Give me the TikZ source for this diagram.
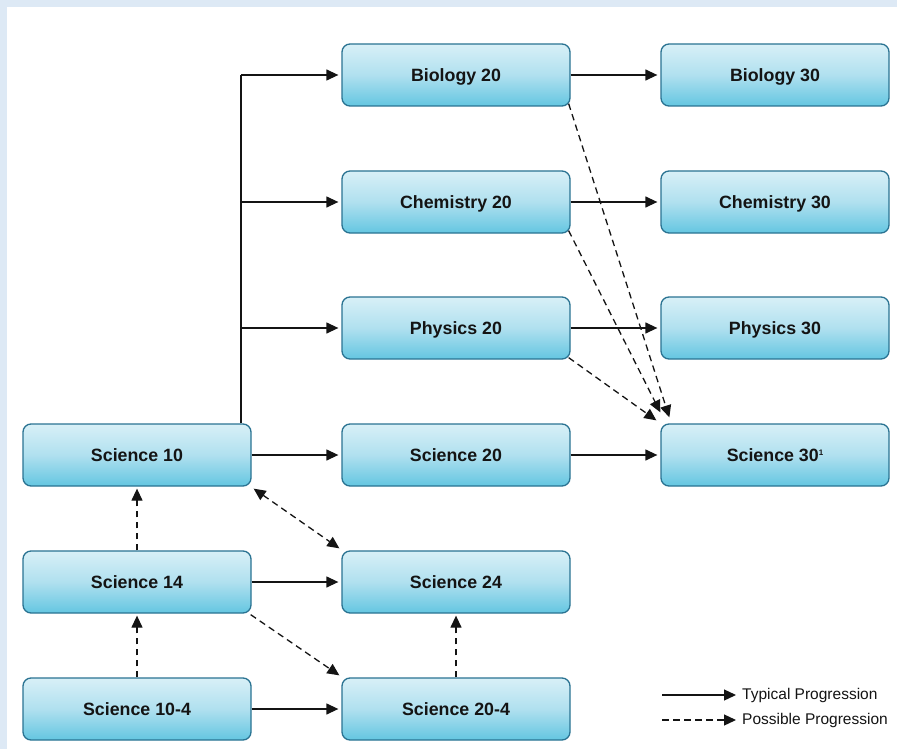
\documentclass[tikz,border=0pt]{standalone}
\usepackage{fontspec}
\setmainfont{Liberation Sans}
\usetikzlibrary{arrows.meta}
\definecolor{bgblue}{RGB}{221,233,245}
\definecolor{boxtop}{RGB}{216,240,247}
\definecolor{boxmid}{RGB}{176,224,239}
\definecolor{boxbot}{RGB}{100,198,225}
\definecolor{boxline}{RGB}{42,115,146}
\definecolor{ink}{RGB}{20,20,20}
\begin{document}
\begin{tikzpicture}[x=1pt,y=-1pt,
  course/.style={draw=boxline,line width=1.3pt,rounded corners=8pt,
    top color=boxtop,bottom color=boxbot,middle color=boxmid,
    minimum width=228pt,minimum height=62pt,inner sep=0pt,
    text height=12.7pt,text depth=0pt,
    font=\bfseries\fontsize{17.8}{20}\selectfont,text=ink},
  plainline/.style={draw=ink,line width=1.3pt},
  typical/.style={plainline,-{Triangle[length=12pt,width=11pt]},shorten >=3pt},
  possible/.style={typical,dash pattern=on 6.5pt off 4.5pt},
  legtext/.style={anchor=west,inner sep=0pt,font=\fontsize{15.5}{17}\selectfont,text=ink}]
\fill[bgblue] (0,0) rectangle (897,749);
\fill[white] (7,7) rectangle (897,749);
\useasboundingbox (0,0) rectangle (897,749);

% column 2 and 3
\node[course] (bio20) at (456,75) {Biology 20};
\node[course] (chem20) at (456,202) {Chemistry 20};
\node[course] (phys20) at (456,328) {Physics 20};
\node[course] (sci20) at (456,455) {Science 20};
\node[course] (sci24) at (456,582) {Science 24};
\node[course] (sci204) at (456,709) {Science 20-4};

\node[course] (bio30) at (775,75) {Biology 30};
\node[course] (chem30) at (775,202) {Chemistry 30};
\node[course] (phys30) at (775,328) {Physics 30};
\node[course] (sci30) at (775,455) {Science 30\raisebox{6pt}{\fontsize{8}{8}\selectfont 1}};

% column 1
\node[course] (sci10) at (137,455) {Science 10};
\node[course] (sci14) at (137,582) {Science 14};
\node[course] (sci104) at (137,709) {Science 10-4};

% branch from Science 10
\coordinate (bt) at (241,75);
\draw[plainline] (sci10.north -| bt) -- (bt);
\draw[typical] (bt) -- (bio20);
\draw[typical] (bt |- chem20) -- (chem20);
\draw[typical] (bt |- phys20) -- (phys20);
\draw[typical] (sci10) -- (sci20);

% to the 30 level
\draw[typical] (bio20) -- (bio30);
\draw[typical] (chem20) -- (chem30);
\draw[typical] (phys20) -- (phys30);
\draw[typical] (sci20) -- (sci30);

% possible into Science 30
\draw[possible,shorten >=0pt] ([shift={(-2,-3)}]bio20.south east) -- ([shift={(9,-6)}]sci30.north west);
\draw[possible,shorten >=0pt] ([shift={(-2,-3)}]chem20.south east) -- ([shift={(0,-11)}]sci30.north west);
\draw[possible,shorten >=0pt] ([shift={(-2,-2)}]phys20.south east) -- ([shift={(-4,-3)}]sci30.north west);

% lower part
\draw[possible,shorten >=2pt] (sci14) -- (sci10);
\draw[possible,shorten >=2pt] (sci104) -- (sci14);
\draw[possible,shorten >=2pt] (sci204) -- (sci24);
\draw[possible,{Triangle[length=12pt,width=11pt]}-{Triangle[length=12pt,width=11pt]},shorten >=0pt]
  ([shift={(2,2)}]sci10.south east) -- ([shift={(-2,-2)}]sci24.north west);
\draw[typical] (sci14) -- (sci24);
\draw[possible,shorten >=0pt] ([shift={(-1,1)}]sci14.south east) -- ([shift={(-2,-2)}]sci204.north west);
\draw[typical] (sci104) -- (sci204);

% legend
\coordinate (la) at (662,695);
\coordinate (lb) at (736,695);
\coordinate (lc) at (662,720);
\coordinate (ld) at (736,720);
\draw[typical,shorten >=0pt] (la) -- (lb);
\draw[possible,shorten >=0pt] (lc) -- (ld);
\node[legtext] (lt1) at (742,695) {Typical Progression};
\node[legtext] (lt2) at (742,720) {Possible Progression};
\end{tikzpicture}
\end{document}
